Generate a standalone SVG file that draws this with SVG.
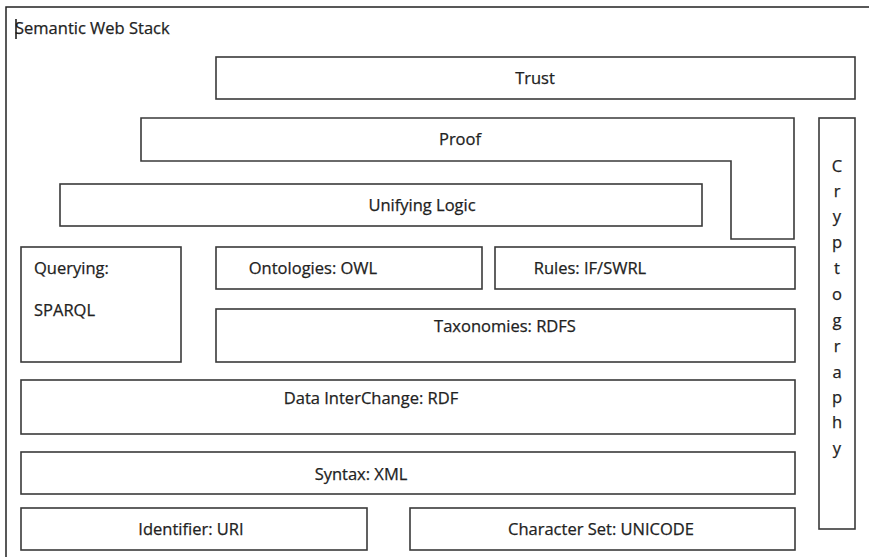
<svg xmlns="http://www.w3.org/2000/svg" width="869" height="557" viewBox="0 0 869 557">
<style>
.b{fill:#fff;stroke:#3a3a3a;stroke-width:1.6}
.t{font-family:"Open Sans","Liberation Sans",sans-serif;font-size:16.5px;fill:#222;stroke:#222;stroke-width:0.25}
.c{text-anchor:middle}
</style>
<rect x="0" y="0" width="869" height="557" fill="#fff"/>
<rect x="6" y="7" width="870" height="560" fill="none" stroke="#222" stroke-width="1.5"/>
<g id="title"><text class="t" x="15" y="34" font-size="18">Semantic Web Stack</text><line x1="16" y1="19" x2="16" y2="39" stroke="#111" stroke-width="1.5"/></g>
<g id="trust"><rect class="b" x="216" y="57" width="639" height="42"/><text class="t c" x="535" y="84">Trust</text></g>
<g id="proof"><path class="b" d="M141 118H794V239H731V161H141Z"/><text class="t c" x="460" y="145">Proof</text></g>
<g id="logic"><rect class="b" x="60" y="184" width="642" height="42"/><text class="t c" x="422" y="211">Unifying Logic</text></g>
<g id="crypto"><rect class="b" x="819" y="118" width="36" height="411"/>
<g class="t c"><text x="837" y="172">C</text><text x="837" y="197">r</text><text x="837" y="222">y</text><text x="837" y="248">p</text><text x="837" y="274">t</text><text x="837" y="300">o</text><text x="837" y="326">g</text><text x="837" y="352">r</text><text x="837" y="378">a</text><text x="837" y="403">p</text><text x="837" y="428">h</text><text x="837" y="454">y</text></g></g>
<g id="query"><rect class="b" x="21" y="247" width="160" height="115"/><text class="t" x="34" y="274">Querying:</text><text class="t" x="34" y="316">SPARQL</text></g>
<g id="owl"><rect class="b" x="216" y="247" width="266" height="42"/><text class="t c" x="313" y="274">Ontologies: OWL</text></g>
<g id="rules"><rect class="b" x="495" y="247" width="300" height="42"/><text class="t c" x="590" y="274">Rules: IF/SWRL</text></g>
<g id="rdfs"><rect class="b" x="216" y="309" width="579" height="53"/><text class="t c" x="505" y="332">Taxonomies: RDFS</text></g>
<g id="rdf"><rect class="b" x="21" y="380" width="774" height="54"/><text class="t c" x="371" y="404">Data InterChange: RDF</text></g>
<g id="xml"><rect class="b" x="21" y="452" width="774" height="42"/><text class="t c" x="361" y="480">Syntax: XML</text></g>
<g id="uri"><rect class="b" x="21" y="508" width="346" height="42"/><text class="t c" x="191" y="535">Identifier: URI</text></g>
<g id="unicode"><rect class="b" x="410" y="508" width="385" height="42"/><text class="t c" x="601" y="535">Character Set: UNICODE</text></g>
<g id="connectors"/>
</svg>
